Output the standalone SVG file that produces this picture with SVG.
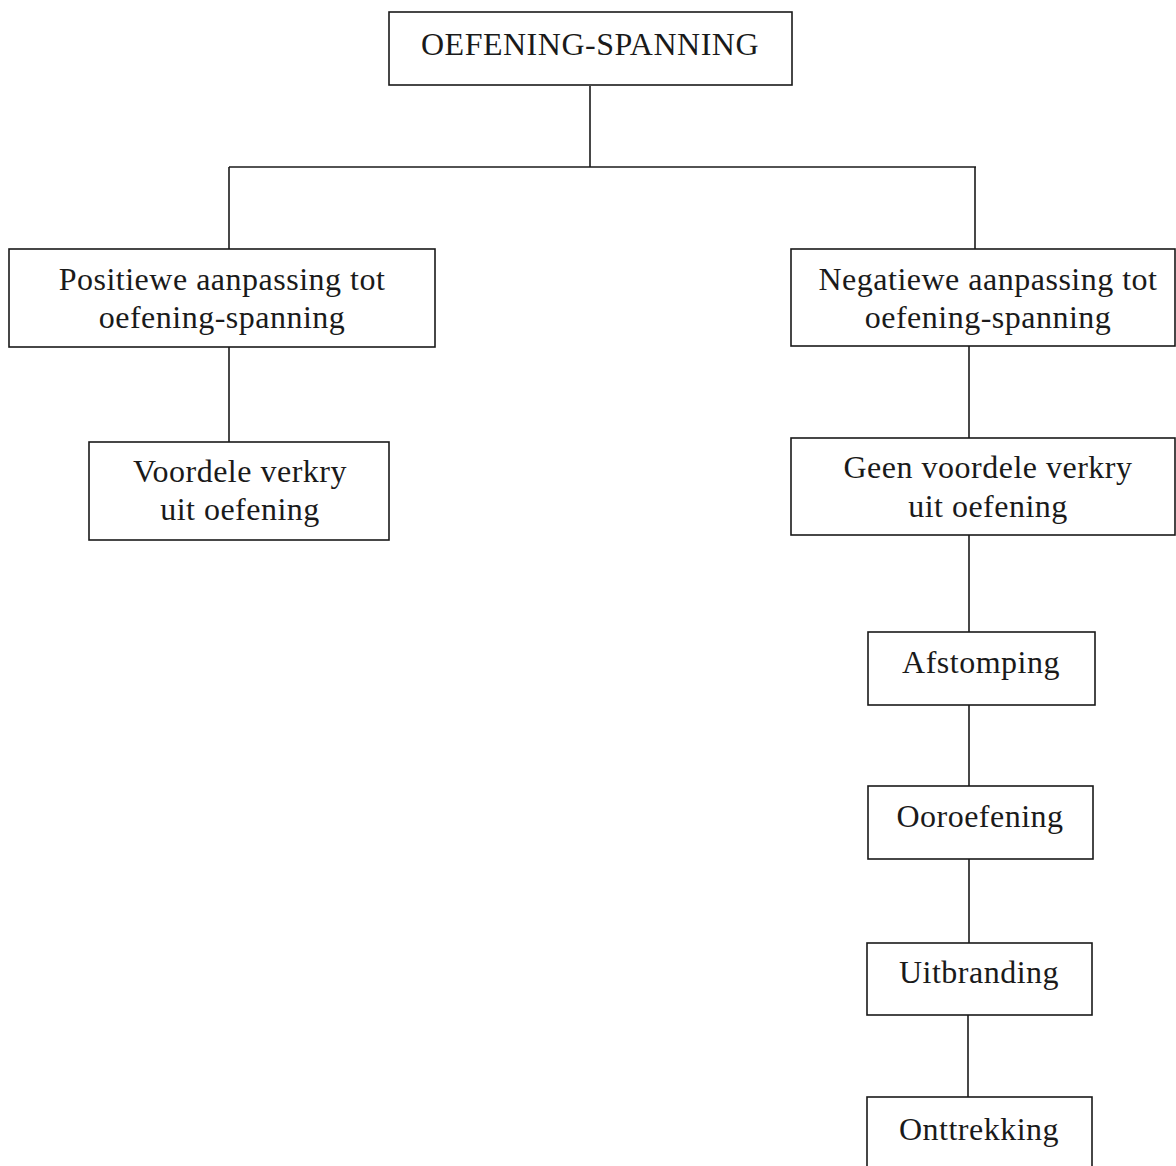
<svg xmlns="http://www.w3.org/2000/svg" width="1176" height="1166" viewBox="0 0 1176 1166">
<style>
.box{fill:#fff;stroke:#1a1a1a;stroke-width:1.6}
.lbl{font-family:"Liberation Serif","Times New Roman",serif;font-size:32px;letter-spacing:0.5px;fill:#1a1a1a;text-anchor:middle}
.con{stroke:#1a1a1a;stroke-width:1.6;fill:none}
</style>
<rect width="1176" height="1166" fill="#fff"/>
<g id="connectors">
<line class="con" x1="590" y1="86" x2="590" y2="167"/>
<line class="con" x1="229" y1="167" x2="976" y2="167"/>
<line class="con" x1="229" y1="167" x2="229" y2="249"/>
<line class="con" x1="975" y1="167" x2="975" y2="249"/>
<line class="con" x1="229" y1="347" x2="229" y2="442"/>
<line class="con" x1="969" y1="346" x2="969" y2="438"/>
<line class="con" x1="969" y1="535" x2="969" y2="632"/>
<line class="con" x1="969" y1="705" x2="969" y2="786"/>
<line class="con" x1="969" y1="859" x2="969" y2="943"/>
<line class="con" x1="968" y1="1015" x2="968" y2="1097"/>
</g>
<g id="n-root">
<rect class="box" x="389" y="12" width="403" height="73"/>
<text class="lbl" x="590" y="55">OEFENING-SPANNING</text>
</g>
<g id="n-pos">
<rect class="box" x="9" y="249" width="426" height="98"/>
<text class="lbl" x="222" y="290">Positiewe aanpassing tot</text>
<text class="lbl" x="222" y="328">oefening-spanning</text>
</g>
<g id="n-voordele">
<rect class="box" x="89" y="442" width="300" height="98"/>
<text class="lbl" x="240" y="482">Voordele verkry</text>
<text class="lbl" x="240" y="520">uit oefening</text>
</g>
<g id="n-neg">
<rect class="box" x="791" y="249" width="384" height="97"/>
<text class="lbl" x="988" y="290">Negatiewe aanpassing tot</text>
<text class="lbl" x="988" y="328">oefening-spanning</text>
</g>
<g id="n-geen">
<rect class="box" x="791" y="438" width="384" height="97"/>
<text class="lbl" x="988" y="478">Geen voordele verkry</text>
<text class="lbl" x="988" y="517">uit oefening</text>
</g>
<g id="n-afstomping">
<rect class="box" x="868" y="632" width="227" height="73"/>
<text class="lbl" x="981" y="673">Afstomping</text>
</g>
<g id="n-ooroefening">
<rect class="box" x="868" y="786" width="225" height="73"/>
<text class="lbl" x="980" y="827">Ooroefening</text>
</g>
<g id="n-uitbranding">
<rect class="box" x="867" y="943" width="225" height="72"/>
<text class="lbl" x="979" y="983">Uitbranding</text>
</g>
<g id="n-onttrekking">
<rect class="box" x="867" y="1097" width="225" height="80"/>
<text class="lbl" x="979" y="1140">Onttrekking</text>
</g>
</svg>
